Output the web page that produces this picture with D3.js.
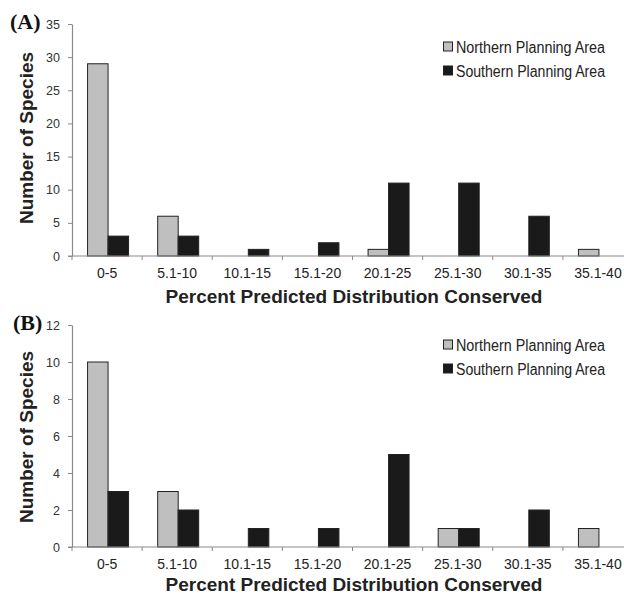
<!DOCTYPE html>
<html>
<head>
<meta charset="utf-8">
<script src="https://cdn.jsdelivr.net/npm/d3@7"></script>
<style>
  html, body { margin: 0; padding: 0; background: #fff; }
  svg { display: block; }
</style>
</head>
<body>
<svg id="chart" width="624" height="596"></svg>
<script>
const categories = ["0-5", "5.1-10", "10.1-15", "15.1-20", "20.1-25", "25.1-30", "30.1-35", "35.1-40"];
const seriesNames = ["Northern Planning Area", "Southern Planning Area"];
const northernA = [29, 6, 0, 0, 1, 0, 0, 1];
const southernA = [3, 3, 1, 2, 11, 11, 6, 0];
const northernB = [10, 3, 0, 0, 0, 1, 0, 1];
const southernB = [3, 2, 1, 1, 5, 1, 2, 0];
const yTicksA = [0, 5, 10, 15, 20, 25, 30, 35];
const yTicksB = [0, 2, 4, 6, 8, 10, 12];

const colors = ["#bfbfbf", "#1a1a1a"];
const svg = d3.select("#chart");
const sans = "Liberation Sans, Arial, sans-serif";

function panel(cfg) {
  const g = svg.append("g");
  const x = d3.scaleBand().domain(categories).range([72, 633]).paddingInner(0).paddingOuter(0);
  const y = d3.scaleLinear().domain([0, cfg.ymax]).range([cfg.y0, cfg.ytop]);
  const barW = 20.5;

  // bars
  const data = categories.map((c, i) => ({ c, v: [cfg.north[i], cfg.south[i]] }));
  data.forEach(d => {
    d.v.forEach((v, s) => {
      if (v <= 0) return;
      const cx = x(d.c) + x.bandwidth() / 2 + 1;
      g.append("rect")
        .attr("x", cx - barW + s * barW)
        .attr("y", y(v))
        .attr("width", barW)
        .attr("height", y(0) - y(v))
        .attr("fill", colors[s])
        .attr("stroke", "#222")
        .attr("stroke-width", 1);
    });
  });

  // y axis
  const yAxis = d3.axisLeft(y).tickValues(cfg.yTicks).tickSize(4).tickSizeOuter(0);
  const ya = g.append("g").attr("transform", "translate(72,0)").call(yAxis);
  ya.select(".domain").attr("stroke", "#8a8a8a").attr("stroke-width", 1.2);
  ya.selectAll(".tick line").attr("stroke", "#8a8a8a");
  ya.selectAll(".tick text")
    .attr("font-family", sans)
    .attr("font-size", 12.5).attr("fill", "#333").attr("x", -12);

  // x axis
  const xa = g.append("g").attr("transform", `translate(0,${cfg.y0})`);
  xa.append("line").attr("x1", 68).attr("x2", 624).attr("y1", 0).attr("y2", 0)
    .attr("stroke", "#8a8a8a").attr("stroke-width", 1.2);
  categories.forEach((c, i) => {
    xa.append("line").attr("x1", x(c)).attr("x2", x(c)).attr("y1", 0).attr("y2", 4)
      .attr("stroke", "#8a8a8a");
    xa.append("text").attr("x", x(c) + x.bandwidth() / 2).attr("y", 22)
      .attr("text-anchor", "middle")
      .attr("font-family", sans)
      .attr("font-size", 14).attr("fill", "#222").text(c);
  });

  // axis titles
  g.append("text").attr("x", 354).attr("y", cfg.y0 + cfg.titleOff)
    .attr("text-anchor", "middle")
    .attr("font-family", sans)
    .attr("font-weight", "bold").attr("font-size", 19).attr("fill", "#222")
    .text("Percent Predicted Distribution Conserved");
  g.append("text")
    .attr("transform", `translate(33,${cfg.ylabY}) rotate(-90)`)
    .attr("text-anchor", "middle")
    .attr("font-family", sans)
    .attr("font-weight", "bold").attr("font-size", 19).attr("fill", "#222")
    .text("Number of Species");

  // panel letter
  g.append("text").attr("x", cfg.letterX).attr("y", cfg.ytop + 5)
    .attr("font-family", "Liberation Serif, Times New Roman, serif")
    .attr("font-weight", "bold").attr("font-size", 22).attr("fill", "#111")
    .text(cfg.letter);

  // legend
  seriesNames.forEach((n, i) => {
    const ly = cfg.legY + i * 24;
    g.append("rect").attr("x", 443.5).attr("y", ly - 5).attr("width", 9).attr("height", 9)
      .attr("fill", colors[i]).attr("stroke", "#222").attr("stroke-width", 1);
    g.append("text").attr("x", 456).attr("y", ly + 5.5)
      .attr("font-family", sans)
      .attr("font-size", 16).attr("fill", "#222")
      .attr("textLength", 149).attr("lengthAdjust", "spacingAndGlyphs")
      .text(n);
  });
}

panel({ north: northernA, south: southernA, ymax: 35, yTicks: yTicksA, y0: 256, ytop: 24,
        letter: "(A)", letterX: 10, legY: 47, ylabY: 138, titleOff: 47 });
panel({ north: northernB, south: southernB, ymax: 12, yTicks: yTicksB, y0: 547, ytop: 325,
        letter: "(B)", letterX: 13, legY: 345, ylabY: 437, titleOff: 44 });
</script>
</body>
</html>
